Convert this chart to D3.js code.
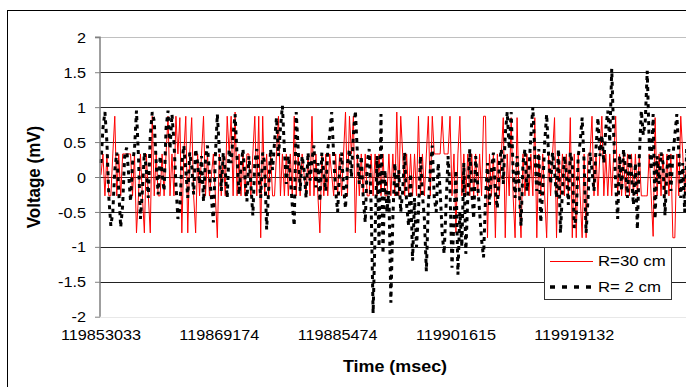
<!DOCTYPE html>
<html><head><meta charset="utf-8">
<script src="https://cdn.jsdelivr.net/npm/d3@7"></script>
<style>body{margin:0;background:#fff;overflow:hidden}svg{display:block}</style>
</head><body>
<script>
const tickLabels = ["119853033","119869174","119885474","119901615","119919132"];
const labelEvery = 60;
const yTicks = [-2,-1.5,-1,-0.5,0,0.5,1,1.5,2];
const seriesNames = ["R=30 cm","R= 2 cm"];
const r30 = [
0.03,0.33,-0.27,0.33,-0.27,-0.27,0.33,0.87,-0.27,0.33,
-0.27,0.33,0.33,0.33,0.33,0.33,-0.27,0.33,-0.8,-0.27,
0.33,-0.27,-0.8,0.33,-0.27,-0.8,0.87,-0.27,0.33,-0.27,
-0.27,0.33,-0.27,0.33,0.87,-0.27,0.33,-0.27,0.87,0.33,
0.85,-0.8,0.33,0.87,-0.8,0.33,0.85,-0.27,-0.8,0.33,
-0.27,0.33,0.87,-0.27,0.33,-0.27,0.03,0.33,-0.27,-0.87,
0.33,-0.27,0.33,-0.27,0.87,0.33,0.87,-0.27,0.93,-0.27,
0.33,-0.27,0.33,-0.27,0.33,0.33,-0.27,0.33,0.87,-0.27,
0.87,-0.87,0.87,-0.27,0.33,-0.27,0.33,-0.27,-0.27,0.33,
0.87,-0.27,0.33,-0.27,0.33,-0.27,0.33,-0.27,0.87,-0.27,
0.33,-0.27,0.33,0.03,-0.27,0.33,-0.27,0.87,-0.27,0.33,
-0.27,-0.8,0.33,-0.27,0.33,-0.27,0.33,0.03,-0.27,0.33,
-0.27,0.33,-0.27,0.33,0.93,-0.27,0.87,0.33,0.87,-0.8,
0.33,-0.27,0.33,-0.27,0.33,-0.27,-0.27,0.33,-0.27,0.33,
-0.27,0.33,-0.27,0.33,-0.27,-0.27,0.33,-0.27,0.33,-0.27,
0.93,-0.27,0.87,0.33,-0.27,0.33,-0.27,0.33,-0.27,0.33,
-0.27,0.87,-0.27,0.33,-0.27,0.33,0.87,-0.27,0.87,0.33,
0.33,0.33,0.33,0.87,0.33,0.33,0.33,0.87,-0.27,0.33,
-0.8,0.33,0.87,-0.27,0.33,-0.27,0.33,-0.27,0.33,-0.27,
0.33,-0.27,0.33,-0.27,0.87,0.87,-0.87,0.33,-0.27,0.33,
-0.87,0.33,-0.27,0.33,0.85,-0.87,0.33,-0.27,0.85,-0.27,
-0.87,0.85,-0.27,-0.87,0.33,-0.27,0.33,-0.27,0.33,-0.27,
0.85,-0.87,0.33,-0.27,0.33,-0.27,-0.87,0.33,-0.27,0.33,
0.85,-0.87,0.33,-0.27,0.33,-0.27,0.33,-0.27,0.85,-0.87,
0.33,-0.87,0.33,-0.27,-0.87,0.33,-0.87,0.33,0.33,0.87,
-0.27,0.33,-0.27,0.33,0.87,-0.27,0.33,-0.27,0.33,-0.27,
0.33,0.87,-0.27,0.33,-0.27,0.33,-0.27,0.33,-0.27,0.33,
-0.27,0.33,-0.27,0.33,-0.27,-0.27,-0.27,-0.27,0.33,-0.27,
-0.85,0.85,-0.27,0.33,-0.27,0.33,-0.27,0.33,-0.27,0.33,
-0.87,-0.87,0.33,-0.27,0.87,0.33,-0.27,0.33,-0.27,0.33
];
const r2 = [
0.2,0.7,0.93,0.5,-0.3,-0.7,-0.5,0.1,0.35,-0.2,
-0.72,-0.4,0.3,0.42,0.05,-0.35,0.2,0.4,0.95,0.3,
-0.6,-0.2,0.35,0.1,-0.3,0.6,0.93,0.8,0.2,-0.25,
0.3,0.05,-0.2,0.7,0.95,0.4,0.9,0.5,-0.1,-0.6,
-0.45,0.2,0.45,0.1,-0.3,0.35,0.15,-0.25,0.4,0.2,
-0.1,0.3,-0.35,0.25,0.45,0.05,-0.3,-0.65,0.3,0.9,
0.4,-0.2,0.35,0.1,-0.3,0.4,0.2,0.6,0.9,0.3,
-0.25,0.15,0.4,0.0,-0.35,0.3,-0.1,-0.55,0.2,0.4,
0.05,-0.3,0.35,0.2,-0.75,-0.2,0.4,0.1,0.5,0.85,
0.3,0.7,1.02,0.4,-0.1,0.3,0.0,-0.4,-0.7,0.93,
0.4,-0.2,0.3,0.1,-0.3,0.35,-0.05,0.25,0.45,-0.15,
0.2,-0.35,0.35,0.05,-0.2,0.4,0.6,0.93,0.3,-0.2,
-0.5,0.1,0.35,-0.15,-0.45,0.2,0.4,0.0,0.6,0.95,
0.35,-0.1,0.3,-0.3,-0.65,0.2,0.4,-0.4,-1.95,-0.8,
0.3,-1.0,0.9,-1.1,0.1,-0.5,-0.2,-1.8,-0.6,0.2,
-0.3,0.1,-0.5,-0.2,0.35,-0.4,-0.7,0.05,-1.2,-0.3,
-1.0,-0.5,0.3,-0.25,-0.6,-1.35,-0.4,0.1,0.45,-0.3,
-0.5,0.2,-0.2,-0.8,-1.1,-0.4,0.3,-0.2,-1.3,-0.6,
0.1,-1.4,-0.5,-1.0,0.2,-1.1,-0.3,0.4,-0.2,-0.6,
0.3,-0.1,-0.5,-0.9,-1.15,-0.3,0.2,-0.4,0.1,0.35,
-0.2,-0.45,0.2,0.4,-0.1,0.6,0.93,0.4,0.93,0.1,
-0.3,0.3,-0.1,-0.7,0.2,0.4,-0.2,0.1,0.6,1.0,
0.35,-0.2,0.4,-0.65,-0.2,0.5,0.9,0.3,-0.1,0.35,
0.1,-0.3,0.4,-0.8,-0.2,0.3,0.05,-0.4,0.35,0.2,
-0.73,-0.55,0.3,0.5,0.85,0.2,-0.8,-0.3,0.35,0.1,
-0.2,0.4,0.85,0.3,0.6,0.2,0.7,0.95,0.5,1.55,
0.6,-0.1,-0.6,0.3,-0.2,0.4,0.1,-0.3,0.35,0.05,
-0.4,0.2,-0.75,0.3,0.95,0.6,0.8,1.52,0.5,0.1,
0.9,-0.6,0.3,-0.1,0.35,0.2,-0.55,0.1,0.4,-0.2,
0.3,0.6,0.9,0.35,-0.3,0.2,-0.5,0.4,0.1,-0.2
];

const FONT = "'Liberation Sans', Arial, sans-serif";
const SX = 1.12;
const W = 686, H = 387;
const svg = d3.select("body").append("svg").attr("width", W).attr("height", H)
  .style("font-family", FONT);

svg.append("rect").attr("x", 7.5).attr("y", 10.5).attr("width", 740).attr("height", 440)
  .attr("fill", "#fff").attr("stroke", "#000").attr("stroke-width", 1);

const n = r30.length;
const left = 100, step = 1.972;
const x = d3.scaleBand().domain(d3.range(n)).range([left, left + n * step]).padding(0);
const cx = i => x(i) + x.bandwidth() / 2;
const y = d3.scaleLinear().domain([-2, 2]).range([316.7, 37.3]);

// gridlines
const g = svg.append("g");
yTicks.forEach(v => {
  const yy = Math.round(y(v)) + 0.5;
  let col = "#222";
  if (v === 2) col = "#c0c0c0";
  if (v === -2) col = "#e8e8e8";
  g.append("line").attr("x1", left).attr("x2", W + 20).attr("y1", yy).attr("y2", yy)
    .attr("stroke", col).attr("stroke-width", 1);
});

// series
const line = d3.line().x((d, i) => cx(i)).y(d => y(d));
svg.append("path").datum(r30).attr("d", line).attr("fill", "none")
  .attr("stroke", "#ff0000").attr("stroke-width", 1);
svg.append("path").datum(r2).attr("d", line).attr("fill", "none")
  .attr("stroke", "#000").attr("stroke-width", 3).attr("stroke-dasharray", "4,4.5");

// y axis
const ya = svg.append("g").attr("transform", `translate(${left},0)`)
  .call(d3.axisLeft(y).tickValues(yTicks).tickSize(5).tickFormat(d => String(d)));
ya.select(".domain").attr("stroke", "#808080").attr("stroke-width", 1.5).attr("d", `M-5,${y(2)}H0V${y(-2)}`);
ya.selectAll(".tick line").attr("stroke", "#808080");
ya.selectAll(".tick text").attr("x", -14 / SX).attr("dy", "0.35em")
  .attr("transform", `scale(${SX},1)`).style("font-size", "14.5px").style("font-family", FONT).attr("fill", "#000");

// x axis labels
const xa = svg.append("g").attr("transform", `translate(0,${y(-2)})`)
  .call(d3.axisBottom(x).tickValues(d3.range(0, n, labelEvery).slice(0, tickLabels.length))
    .tickSize(0).tickFormat((d, k) => tickLabels[k]));
xa.select(".domain").remove();
xa.selectAll(".tick text").attr("y", 23).attr("dy", 0)
  .attr("transform", `scale(${SX},1)`).style("font-size", "14.5px").style("font-family", FONT).attr("fill", "#000");

// titles
svg.append("text").attr("transform", `translate(395,372) scale(${SX},1)`)
  .attr("text-anchor", "middle").style("font-size", "16px").style("font-weight", "bold").text("Time (msec)");
svg.append("text").attr("transform", `translate(40,177) scale(${SX},1) rotate(-90)`)
  .attr("text-anchor", "middle").style("font-size", "17px").style("font-weight", "bold").text("Voltage (mV)");

// legend
const lg = svg.append("g");
lg.append("rect").attr("x", 544.5).attr("y", 247.5).attr("width", 127).attr("height", 52)
  .attr("fill", "#fff").attr("stroke", "#333").attr("stroke-width", 1);
lg.append("line").attr("x1", 550).attr("x2", 593).attr("y1", 261.5).attr("y2", 261.5)
  .attr("stroke", "#ff0000").attr("stroke-width", 1);
lg.append("line").attr("x1", 550).attr("x2", 593).attr("y1", 287).attr("y2", 287)
  .attr("stroke", "#000").attr("stroke-width", 3.5).attr("stroke-dasharray", "5,7");
seriesNames.forEach((s, k) => {
  lg.append("text").attr("transform", `translate(598,${266 + k * 26}) scale(${SX},1)`)
    .style("font-size", "15px").text(s);
});
</script>
</body></html>
